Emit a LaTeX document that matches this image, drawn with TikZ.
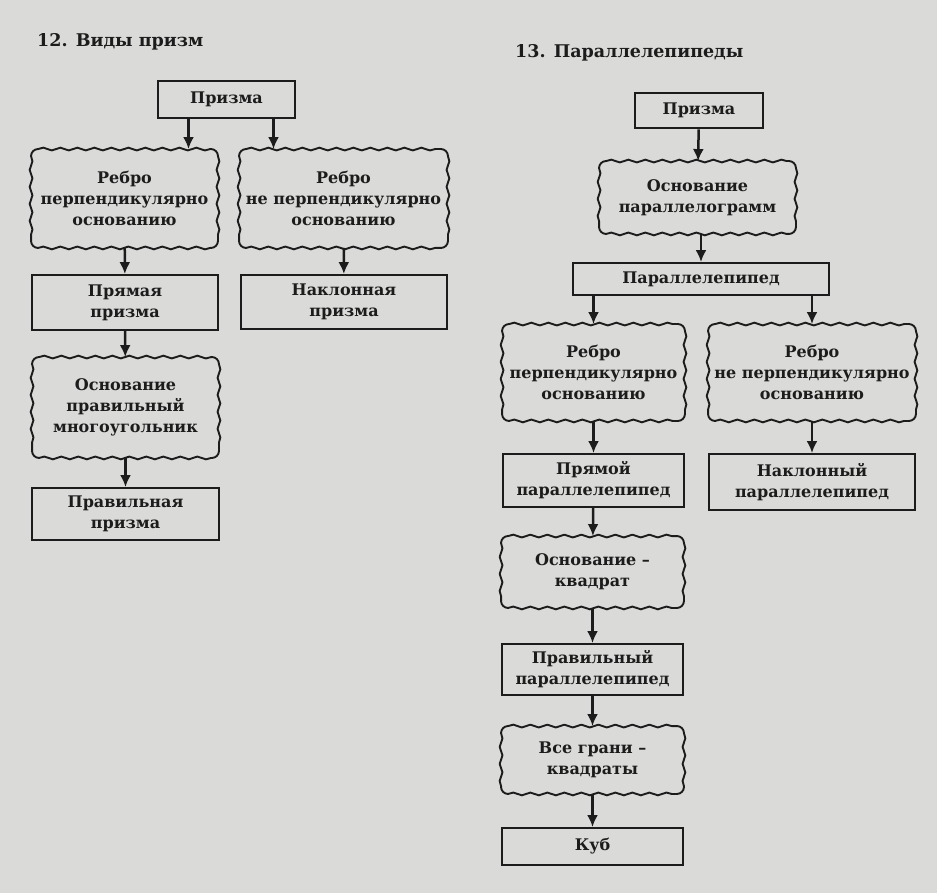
\documentclass[tikz,border=0pt]{standalone}
\usepackage{fontspec}
\setmainfont{DejaVu Serif}
\usetikzlibrary{arrows.meta,decorations.pathmorphing}
\definecolor{paper}{RGB}{218,218,216}
\definecolor{ink}{RGB}{28,28,28}
\tikzset{
 bd/.style={draw=ink, line width=1.9pt, line cap=round, line join=round},
 wv/.style={bd, decorate, decoration={snake, amplitude=1.4pt, segment length=17pt}}
}
\newcommand{\wvborder}[1]{%
 \draw[wv] ([xshift=7pt]#1.north west) -- ([xshift=-7pt]#1.north east);
 \draw[wv] ([xshift=7pt]#1.south west) -- ([xshift=-7pt]#1.south east);
 \draw[wv] ([yshift=-7pt]#1.north west) -- ([yshift=7pt]#1.south west);
 \draw[wv] ([yshift=-7pt]#1.north east) -- ([yshift=7pt]#1.south east);
 \draw[bd, rounded corners=7pt] ([xshift=7pt]#1.north west) -- (#1.north west) -- ([yshift=-7pt]#1.north west);
 \draw[bd, rounded corners=7pt] ([xshift=-7pt]#1.north east) -- (#1.north east) -- ([yshift=-7pt]#1.north east);
 \draw[bd, rounded corners=7pt] ([xshift=7pt]#1.south west) -- (#1.south west) -- ([yshift=7pt]#1.south west);
 \draw[bd, rounded corners=7pt] ([xshift=-7pt]#1.south east) -- (#1.south east) -- ([yshift=7pt]#1.south east);
}
\begin{document}
\begin{tikzpicture}[x=1pt,y=-1pt,
 box/.style={draw=ink, line width=1.9pt, rectangle, align=center, inner sep=0pt, font=\fontsize{16}{21}\selectfont\bfseries, text=ink},
 wavy/.style={box, draw=none},
 arr/.style={draw=ink, line width=2.5pt, -{Latex[width=11pt,length=12pt]}},
 ttl/.style={anchor=west, font=\fontsize{17.5}{20}\selectfont\bfseries, text=ink, inner sep=0pt}]
\fill[paper] (0,0) rectangle (937,893);
\useasboundingbox (0,0) rectangle (937,893);
% left diagram
\node[ttl] (T1) at (37,42) {12. Виды призм};
\node[box, minimum width=137pt, minimum height=37pt] (A1) at (226.5,99.5) {Призма};
\node[wavy, minimum width=185pt, minimum height=97pt] (A2L) at (124.5,198.5) {Ребро\\перпендикулярно\\основанию};
\node[wavy, minimum width=207pt, minimum height=97pt] (A2R) at (343.5,198.5) {Ребро\\не перпендикулярно\\основанию};
\node[box, minimum width=186pt, minimum height=55pt] (A3L) at (125,302.5) {Прямая\\призма};
\node[box, minimum width=206pt, minimum height=54pt] (A3R) at (344,302) {Наклонная\\призма};
\node[wavy, minimum width=185pt, minimum height=99pt] (A4) at (125.5,407.5) {Основание\\правильный\\многоугольник};
\node[box, minimum width=187pt, minimum height=52pt] (A5) at (125.5,514) {Правильная\\призма};
\wvborder{A2L}\wvborder{A2R}\wvborder{A4}
\draw[arr] ([xshift=-38pt]A1.south) -- ([xshift=-38pt]A1.south |- A2L.north);
\draw[arr] ([xshift=47pt]A1.south) -- ([xshift=47pt]A1.south |- A2R.north);
\draw[arr] (A2L) -- (A3L);
\draw[arr] (A2R) -- (A3R);
\draw[arr] (A3L) -- (A4);
\draw[arr] (A4) -- (A5);
% right diagram
\node[ttl] (T2) at (515,53) {13. Параллелепипеды};
\node[box, line width=2.7pt, minimum width=128pt, minimum height=35pt] (B1) at (699,110.5) {Призма};
\node[wavy, minimum width=195pt, minimum height=71pt] (B2) at (697.5,197.5) {Основание\\параллелограмм};
\node[box, minimum width=256pt, minimum height=32pt] (B3) at (701,279) {Параллелепипед};
\node[wavy, minimum width=181pt, minimum height=95pt] (B4L) at (593.5,372.5) {Ребро\\перпендикулярно\\основанию};
\node[wavy, minimum width=206pt, minimum height=95pt] (B4R) at (812,372.5) {Ребро\\не перпендикулярно\\основанию};
\node[box, minimum width=181pt, minimum height=53pt] (B5L) at (593.5,480.5) {Прямой\\параллелепипед};
\node[box, minimum width=206pt, minimum height=56pt] (B5R) at (812,482) {Наклонный\\параллелепипед};
\node[wavy, minimum width=181pt, minimum height=70pt] (B6) at (592.5,572) {Основание –\\квадрат};
\node[box, minimum width=181pt, minimum height=51pt] (B7) at (592.5,669.5) {Правильный\\параллелепипед};
\node[wavy, minimum width=181pt, minimum height=66pt] (B8) at (592.5,760) {Все грани –\\квадраты};
\node[box, minimum width=181pt, minimum height=37pt] (B9) at (592.5,846.5) {Куб};
\wvborder{B2}\wvborder{B4L}\wvborder{B4R}\wvborder{B6}\wvborder{B8}
\draw[arr] (B1) -- (B2);
\draw[arr] (B2.south -| B3.north) -- (B3.north);
\draw[arr] (B3.south -| B4L.north) -- (B4L.north);
\draw[arr] (B3.south -| B4R.north) -- (B4R.north);
\draw[arr] (B4L) -- (B5L);
\draw[arr] (B4R) -- (B5R);
\draw[arr] (B5L) -- (B6);
\draw[arr] (B6) -- (B7);
\draw[arr] (B7) -- (B8);
\draw[arr] (B8) -- (B9);
\end{tikzpicture}
\end{document}
